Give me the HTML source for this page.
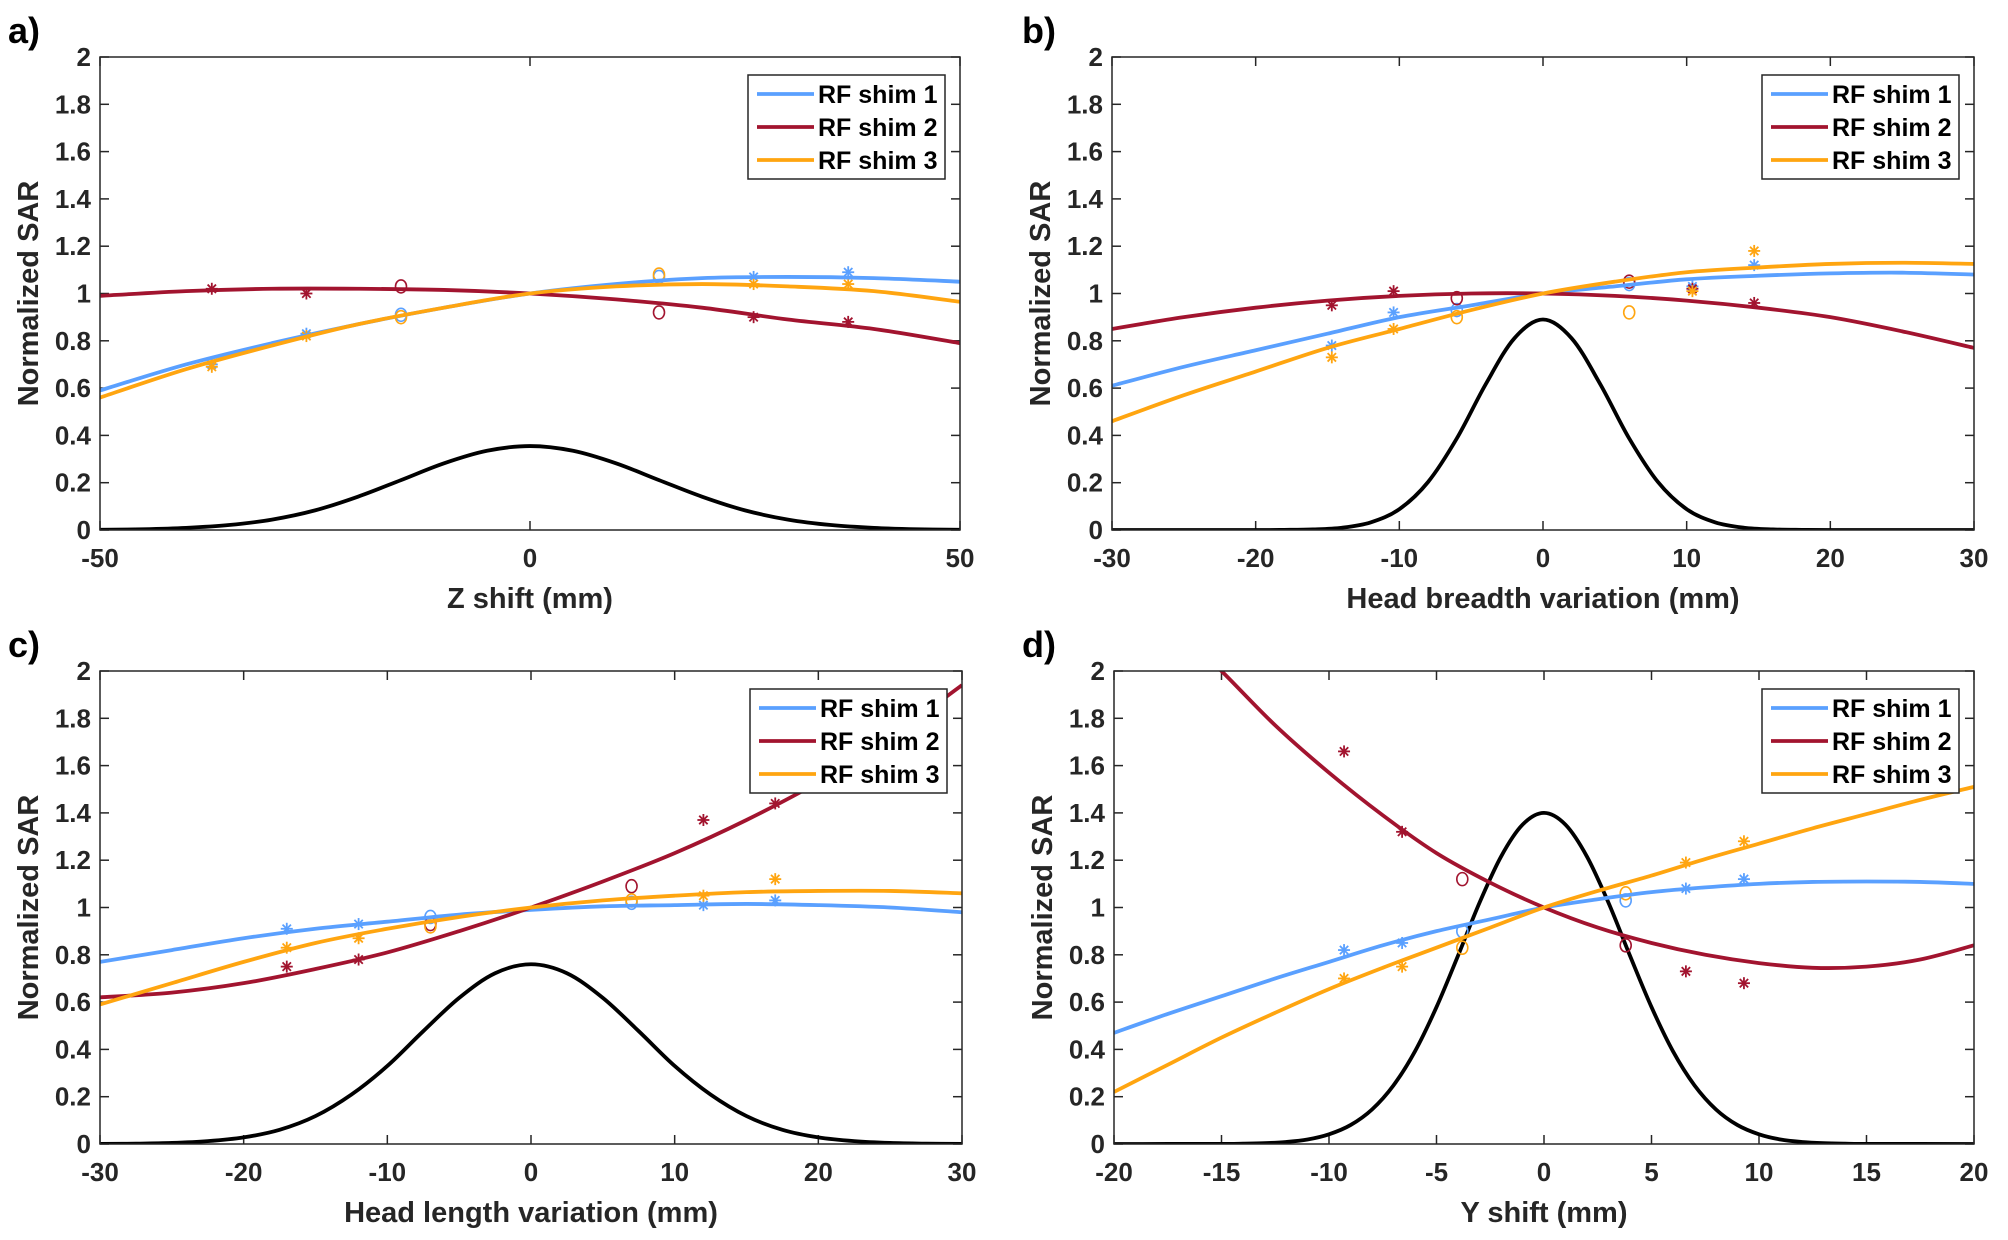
<!DOCTYPE html>
<html><head><meta charset="utf-8">
<style>
html,body{margin:0;padding:0;background:#fff;}
svg{display:block;font-family:"Liberation Sans",Arial,sans-serif;}
</style></head>
<body>
<svg id="fig" width="2008" height="1240" viewBox="0 0 2008 1240" xmlns="http://www.w3.org/2000/svg"></svg>
<script>
// ---------- DATA ----------
// Panel a: Z shift
const aXTicks = [-50, 0, 50];
const aFitX = [-50,-40,-30,-20,-10,0,10,20,30,40,50];
const aFit1 = [0.59,0.70,0.79,0.87,0.94,1.0,1.04,1.065,1.07,1.065,1.05];
const aFit2 = [0.99,1.01,1.02,1.02,1.015,1.0,0.975,0.94,0.89,0.85,0.79];
const aFit3 = [0.56,0.68,0.78,0.87,0.94,1.0,1.03,1.04,1.03,1.01,0.965];
const aGaussX = [0,5,10,15,20,25,30,35,40,45,50];
const aGaussY = [0.355,0.335,0.282,0.211,0.141,0.083,0.044,0.021,0.009,0.0033,0.001];
const aStarX = [-37,-26,26,37];
const aStar1 = [0.70,0.83,1.07,1.09];
const aStar2 = [1.02,1.00,0.90,0.88];
const aStar3 = [0.69,0.82,1.04,1.04];
const aCircX = [-15,15];
const aCirc1 = [0.91,1.07];
const aCirc2 = [1.03,0.92];
const aCirc3 = [0.90,1.08];

// Panel b: head breadth
const bXTicks = [-30,-20,-10,0,10,20,30];
const bFitX = [-30,-25,-20,-15,-10,-5,0,5,10,15,20,25,30];
const bFit1 = [0.61,0.69,0.76,0.83,0.90,0.95,1.0,1.03,1.06,1.075,1.085,1.088,1.08];
const bFit2 = [0.85,0.90,0.94,0.97,0.99,1.0,1.0,0.99,0.97,0.94,0.90,0.84,0.77];
const bFit3 = [0.46,0.57,0.67,0.77,0.85,0.93,1.0,1.05,1.09,1.11,1.125,1.13,1.125];
const bGaussX = [0,2,4,6,8,10,12,14,16,18,20,30];
const bGaussY = [0.89,0.81,0.615,0.387,0.203,0.088,0.032,0.0096,0.0024,0.0005,0,0];
const bStarX = [-14.7,-10.4,10.4,14.7];
const bStar1 = [0.78,0.92,1.03,1.12];
const bStar2 = [0.95,1.01,1.02,0.96];
const bStar3 = [0.73,0.85,1.01,1.18];
const bCircX = [-6,6];
const bCirc1 = [0.93,1.04];
const bCirc2 = [0.98,1.05];
const bCirc3 = [0.90,0.92];

// Panel c: head length
const cXTicks = [-30,-20,-10,0,10,20,30];
const cFitX = [-30,-25,-20,-15,-10,-5,0,5,10,15,20,25,30];
const cFit1 = [0.77,0.82,0.87,0.91,0.94,0.97,0.99,1.005,1.01,1.015,1.01,1.0,0.98];
const cFit2 = [0.62,0.64,0.68,0.74,0.81,0.90,1.0,1.11,1.23,1.37,1.53,1.72,1.94];
const cFit3 = [0.59,0.68,0.77,0.85,0.91,0.96,1.0,1.03,1.05,1.065,1.07,1.07,1.06];
const cGaussX = [0,2.5,5,7.5,10,12.5,15,17.5,20,22.5,25,27.5,30];
const cGaussY = [0.76,0.722,0.618,0.477,0.33,0.209,0.118,0.06,0.028,0.012,0.0044,0.0015,0.0005];
const cStarX = [-17,-12,12,17];
const cStar1 = [0.91,0.93,1.01,1.03];
const cStar2 = [0.75,0.78,1.37,1.44];
const cStar3 = [0.83,0.87,1.05,1.12];
const cCircX = [-7,7];
const cCirc1 = [0.96,1.02];
const cCirc2 = [0.93,1.09];
const cCirc3 = [0.92,1.03];

// Panel d: Y shift
const dXTicks = [-20,-15,-10,-5,0,5,10,15,20];
const dFitX = [-20,-17.5,-15,-12.5,-10,-7.5,-5,-2.5,0,2.5,5,7.5,10,12.5,15,17.5,20];
const dFit1 = [0.47,0.55,0.625,0.70,0.77,0.84,0.90,0.95,1.0,1.035,1.065,1.085,1.10,1.108,1.11,1.108,1.10];
const dFit2 = [2.48,2.22,2.0,1.77,1.57,1.39,1.23,1.105,1.0,0.915,0.85,0.80,0.765,0.745,0.75,0.78,0.84];
const dFit3 = [0.22,0.335,0.45,0.555,0.655,0.745,0.83,0.915,1.0,1.07,1.135,1.205,1.27,1.335,1.395,1.455,1.51];
const dGaussX = [0,1,2,3,4,5,6,7,8,9,10,11,12,13,14,15,20];
const dGaussY = [1.4,1.35,1.215,1.02,0.796,0.579,0.392,0.248,0.146,0.08,0.041,0.019,0.0086,0.0035,0.0013,0.0005,0];
const dStarX = [-9.3,-6.6,6.6,9.3];
const dStar1 = [0.82,0.85,1.08,1.12];
const dStar2 = [1.66,1.32,0.73,0.68];
const dStar3 = [0.70,0.75,1.19,1.28];
const dCircX = [-3.8,3.8];
const dCirc1 = [0.90,1.03];
const dCirc2 = [1.12,0.84];
const dCirc3 = [0.83,1.06];

const yTicks = [0,0.2,0.4,0.6,0.8,1,1.2,1.4,1.6,1.8,2];
const yTickLabels = ['0','0.2','0.4','0.6','0.8','1','1.2','1.4','1.6','1.8','2'];
const legendLabels = ['RF shim 1','RF shim 2','RF shim 3'];

// ---------- DRAWING ----------
const NS='http://www.w3.org/2000/svg';
const svg=document.getElementById('fig');
const C1='#5aa0ff', C2='#a2142f', C3='#ffa510';
function mk(tag, attrs, parent){const e=document.createElementNS(NS,tag);for(const k in attrs)e.setAttribute(k,attrs[k]);(parent||svg).appendChild(e);return e;}

function smoothPath(pts){
  let d='M'+pts[0][0].toFixed(2)+','+pts[0][1].toFixed(2);
  for(let i=0;i<pts.length-1;i++){
    const p0=pts[Math.max(0,i-1)],p1=pts[i],p2=pts[i+1],p3=pts[Math.min(pts.length-1,i+2)];
    const c1x=p1[0]+(p2[0]-p0[0])/6,c1y=p1[1]+(p2[1]-p0[1])/6;
    const c2x=p2[0]-(p3[0]-p1[0])/6,c2y=p2[1]-(p3[1]-p1[1])/6;
    d+=' C'+c1x.toFixed(2)+','+c1y.toFixed(2)+' '+c2x.toFixed(2)+','+c2y.toFixed(2)+' '+p2[0].toFixed(2)+','+p2[1].toFixed(2);
  }
  return d;
}

let clipId=0;
function panel(cfg){
  const g=mk('g',{});
  
  
  const L=cfg.L,R=cfg.R,T=cfg.T,B=cfg.B;
  const xmin=cfg.xt[0],xmax=cfg.xt[cfg.xt.length-1];
  const sx=v=>L+(v-xmin)/(xmax-xmin)*(R-L);
  const sy=v=>B-(v/2)*(B-T);
  clipId++;
  const cp=mk('clipPath',{id:'clip'+clipId},g);
  mk('rect',{x:L,y:T,width:R-L,height:B-T},cp);
  const lt=mk('text',{x:cfg.letterX,y:T-14,'font-size':36,'font-weight':'bold',fill:'#000'},g);
  lt.textContent=cfg.letter;
  
  
  cfg.xt.forEach(v=>{
    const x=sx(v);
    mk('line',{x1:x,y1:B,x2:x,y2:B-9,stroke:'#262626','stroke-width':1.5},g);
    mk('line',{x1:x,y1:T,x2:x,y2:T+9,stroke:'#262626','stroke-width':1.5},g);
    const t=mk('text',{x:x,y:B+37,'font-size':26,'font-weight':'bold','text-anchor':'middle',fill:'#262626'},g);
    t.textContent=String(v);
    
    
  });
  yTicks.forEach((v,i)=>{
    const y=sy(v);
    mk('line',{x1:L,y1:y,x2:L+9,y2:y,stroke:'#262626','stroke-width':1.5},g);
    mk('line',{x1:R,y1:y,x2:R-9,y2:y,stroke:'#262626','stroke-width':1.5},g);
    const t=mk('text',{x:L-9,y:y+9,'font-size':26,'font-weight':'bold','text-anchor':'end',fill:'#262626'},g);
    t.textContent=yTickLabels[i];
    
    
  });
  const xl=mk('text',{x:(L+R)/2,y:B+78,'font-size':29,'font-weight':'bold','text-anchor':'middle',fill:'#262626'},g);
  xl.textContent=cfg.xlabel;
  
  
  const yc=(T+B)/2, yx=L-62;
  const yl=mk('text',{x:yx,y:yc,'font-size':29,'font-weight':'bold','text-anchor':'middle',fill:'#262626',transform:'rotate(-90 '+yx+' '+yc+')'},g);
  yl.textContent='Normalized SAR';
  
  
  const plot=mk('g',{'clip-path':'url(#clip'+clipId+')'},g);
  const gx=cfg.gx,gy=cfg.gy;
  const gpts=[];
  for(let i=gx.length-1;i>0;i--)gpts.push([sx(-gx[i]),sy(gy[i])]);
  for(let i=0;i<gx.length;i++)gpts.push([sx(gx[i]),sy(gy[i])]);
  const gp=mk('path',{d:smoothPath(gpts),fill:'none',stroke:'#000','stroke-width':3.8},plot);
  
  
  const cols=[C1,C2,C3];
  cfg.stars.forEach((arr,k)=>{
    arr.forEach((v,i)=>{
      const x=sx(cfg.starX[i]),y=sy(v),r=6;
      const s=mk('g',{stroke:cols[k],'stroke-width':1.8},plot);
      
      
      mk('line',{x1:x,y1:y-r,x2:x,y2:y+r},s);
      mk('line',{x1:x-r,y1:y,x2:x+r,y2:y},s);
      mk('line',{x1:x-r*0.7,y1:y-r*0.7,x2:x+r*0.7,y2:y+r*0.7},s);
      mk('line',{x1:x-r*0.7,y1:y+r*0.7,x2:x+r*0.7,y2:y-r*0.7},s);
    });
  });
  cfg.circs.forEach((arr,k)=>{
    arr.forEach((v,i)=>{
      const c=mk('ellipse',{cx:sx(cfg.circX[i]),cy:sy(v),rx:5.5,ry:6.5,fill:'none',stroke:cols[k],'stroke-width':1.6},plot);
      
      
    });
  });
  cfg.fits.forEach((arr,k)=>{
    const pts=arr.map((v,i)=>[sx(cfg.fitX[i]),sy(v)]);
    const p=mk('path',{d:smoothPath(pts),fill:'none',stroke:cols[k],'stroke-width':3.8},plot);
    
    
  });
  mk('rect',{x:L,y:T,width:R-L,height:B-T,fill:'none',stroke:'#262626','stroke-width':1.5},g);
  const lw=197,lh=104,lx=R-15-lw,ly=T+18;
  const lg=mk('g',{},g);
  
  
  mk('rect',{x:lx,y:ly,width:lw,height:lh,fill:'#fff',stroke:'#262626','stroke-width':1.5},lg);
  legendLabels.forEach((lab,k)=>{
    const yy=ly+19+k*33;
    const e=mk('g',{},lg);
    
    
    mk('line',{x1:lx+9,y1:yy,x2:lx+66,y2:yy,stroke:cols[k],'stroke-width':3.8},e);
    const t=mk('text',{x:lx+70,y:yy+9,'font-size':25,'font-weight':'bold',fill:'#000'},e);
    t.textContent=lab;
  });
}

panel({name:'panel-a-z-shift',letter:'a)',letterX:8,L:100,R:960,T:57,B:530,xt:aXTicks,xlabel:'Z shift (mm)',
  fitX:aFitX,fits:[aFit1,aFit2,aFit3],gx:aGaussX,gy:aGaussY,starX:aStarX,stars:[aStar1,aStar2,aStar3],circX:aCircX,circs:[aCirc1,aCirc2,aCirc3]});
panel({name:'panel-b-head-breadth',letter:'b)',letterX:1022,L:1112,R:1974,T:57,B:530,xt:bXTicks,xlabel:'Head breadth variation (mm)',
  fitX:bFitX,fits:[bFit1,bFit2,bFit3],gx:bGaussX,gy:bGaussY,starX:bStarX,stars:[bStar1,bStar2,bStar3],circX:bCircX,circs:[bCirc1,bCirc2,bCirc3]});
panel({name:'panel-c-head-length',letter:'c)',letterX:8,L:100,R:962,T:671,B:1144,xt:cXTicks,xlabel:'Head length variation (mm)',
  fitX:cFitX,fits:[cFit1,cFit2,cFit3],gx:cGaussX,gy:cGaussY,starX:cStarX,stars:[cStar1,cStar2,cStar3],circX:cCircX,circs:[cCirc1,cCirc2,cCirc3]});
panel({name:'panel-d-y-shift',letter:'d)',letterX:1022,L:1114,R:1974,T:671,B:1144,xt:dXTicks,xlabel:'Y shift (mm)',
  fitX:dFitX,fits:[dFit1,dFit2,dFit3],gx:dGaussX,gy:dGaussY,starX:dStarX,stars:[dStar1,dStar2,dStar3],circX:dCircX,circs:[dCirc1,dCirc2,dCirc3]});
</script>
</body></html>
